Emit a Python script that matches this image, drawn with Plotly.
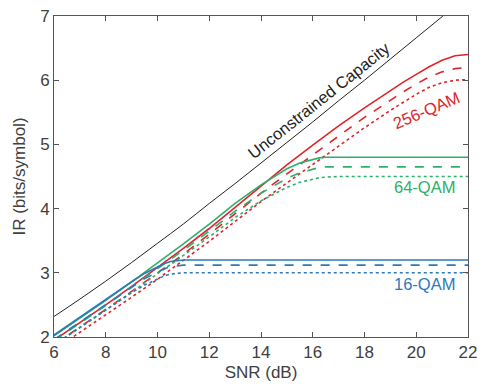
import plotly.graph_objects as go

# Unconstrained capacity
cap_snr = [6, 7, 8, 9, 10, 11, 12, 13, 14, 15, 16, 17, 18, 19, 20, 21, 22]
cap_ir = [2.32, 2.59, 2.87, 3.16, 3.46, 3.76, 4.08, 4.39, 4.71, 5.03, 5.35, 5.68, 6.00, 6.33, 6.66, 6.99, 7.32]

# 16-QAM
qam16_snr = [6, 7, 8, 9, 9.5, 10, 10.25, 10.5, 10.75, 11, 11.5, 22]
qam16_solid = [2.03, 2.31, 2.59, 2.86, 2.99, 3.09, 3.14, 3.175, 3.193, 3.20, 3.20, 3.20]
qam16_dash = [1.96, 2.23, 2.51, 2.78, 2.91, 3.01, 3.06, 3.095, 3.113, 3.12, 3.12, 3.12]
qam16_dot = [1.88, 2.15, 2.43, 2.69, 2.81, 2.91, 2.95, 2.98, 2.995, 3.00, 3.00, 3.00]

# 64-QAM
qam64_snr = [6, 7, 8, 9, 10, 11, 12, 13, 14, 14.5, 15, 15.5, 16, 16.25, 16.5, 17, 22]
qam64_solid = [2.02, 2.29, 2.57, 2.86, 3.15, 3.45, 3.76, 4.08, 4.37, 4.50, 4.62, 4.71, 4.77, 4.79, 4.80, 4.80, 4.80]
qam64_dash = [1.94, 2.21, 2.49, 2.78, 3.06, 3.35, 3.65, 3.96, 4.24, 4.36, 4.47, 4.56, 4.62, 4.64, 4.65, 4.65, 4.65]
qam64_dot = [1.87, 2.14, 2.42, 2.70, 2.98, 3.27, 3.56, 3.86, 4.12, 4.23, 4.33, 4.41, 4.46, 4.48, 4.49, 4.50, 4.50]

# 256-QAM
qam256_snr = [6, 7, 8, 9, 10, 11, 12, 13, 14, 15, 16, 17, 18, 19, 19.5, 20, 20.5, 21, 21.5, 22]
qam256_solid = [1.95, 2.22, 2.50, 2.79, 3.08, 3.38, 3.69, 4.02, 4.36, 4.68, 4.99, 5.29, 5.57, 5.84, 5.97, 6.09, 6.21, 6.31, 6.38, 6.40]
qam256_dash = [1.88, 2.15, 2.43, 2.71, 3.00, 3.29, 3.60, 3.92, 4.24, 4.54, 4.84, 5.13, 5.42, 5.69, 5.82, 5.94, 6.05, 6.13, 6.18, 6.20]
qam256_dot = [1.80, 2.07, 2.34, 2.62, 2.90, 3.19, 3.49, 3.80, 4.11, 4.40, 4.69, 4.98, 5.26, 5.53, 5.66, 5.78, 5.89, 5.96, 6.00, 6.01]

x_ticks = [6, 8, 10, 12, 14, 16, 18, 20, 22]
y_ticks = [2, 3, 4, 5, 6, 7]

RED = "rgb(224,36,42)"
GREEN = "rgb(44,176,108)"
BLUE = "rgb(42,122,186)"
FONT = "Liberation Sans, Arial, sans-serif"

fig = go.Figure()
fig.add_trace(go.Scatter(x=cap_snr, y=cap_ir, mode="lines", line=dict(color="#222222", width=1, shape="spline")))

def add_set(snr, ys, color):
    for y, dash in zip(ys, ["solid", "dash", "dot"]):
        fig.add_trace(go.Scatter(x=snr, y=y, mode="lines",
                                 line=dict(color=color, width=1.6, dash=dash)))

add_set(qam256_snr, [qam256_solid, qam256_dash, qam256_dot], RED)
add_set(qam64_snr, [qam64_solid, qam64_dash, qam64_dot], GREEN)
add_set(qam16_snr, [qam16_solid, qam16_dash, qam16_dot], BLUE)

annots = [
    dict(x=16.25, y=5.69, text="Unconstrained Capacity", color="#222222", angle=-38.5),
    dict(x=20.4, y=5.54, text="256-QAM", color=RED, angle=-23),
    dict(x=20.32, y=4.34, text="64-QAM", color=GREEN, angle=0),
    dict(x=20.32, y=2.82, text="16-QAM", color=BLUE, angle=0),
]
for a in annots:
    fig.add_annotation(x=a["x"], y=a["y"], xref="x", yref="y", text=a["text"], showarrow=False,
                       textangle=a["angle"], font=dict(family=FONT, size=16.5, color=a["color"]))

axis_common = dict(showgrid=False, zeroline=False, showline=True, linecolor="#555555", linewidth=1,
                   mirror="ticks", ticks="inside", ticklen=5, tickcolor="#555555",
                   ticklabeloverflow="allow",
                   tickfont=dict(family=FONT, size=17, color="#404040"))
fig.update_xaxes(range=[6, 22], tickvals=x_ticks,
                 title=dict(text="SNR (dB)", font=dict(family=FONT, size=17, color="#404040"), standoff=4),
                 **axis_common)
fig.update_yaxes(range=[2, 7], tickvals=y_ticks,
                 title=dict(text="IR (bits/symbol)", font=dict(family=FONT, size=17, color="#404040"), standoff=10),
                 **axis_common)

fig.update_layout(width=484, height=389, margin=dict(l=54, r=11, t=7, b=52),
                  paper_bgcolor="white", plot_bgcolor="white", showlegend=False)
fig.write_html("out.html")
